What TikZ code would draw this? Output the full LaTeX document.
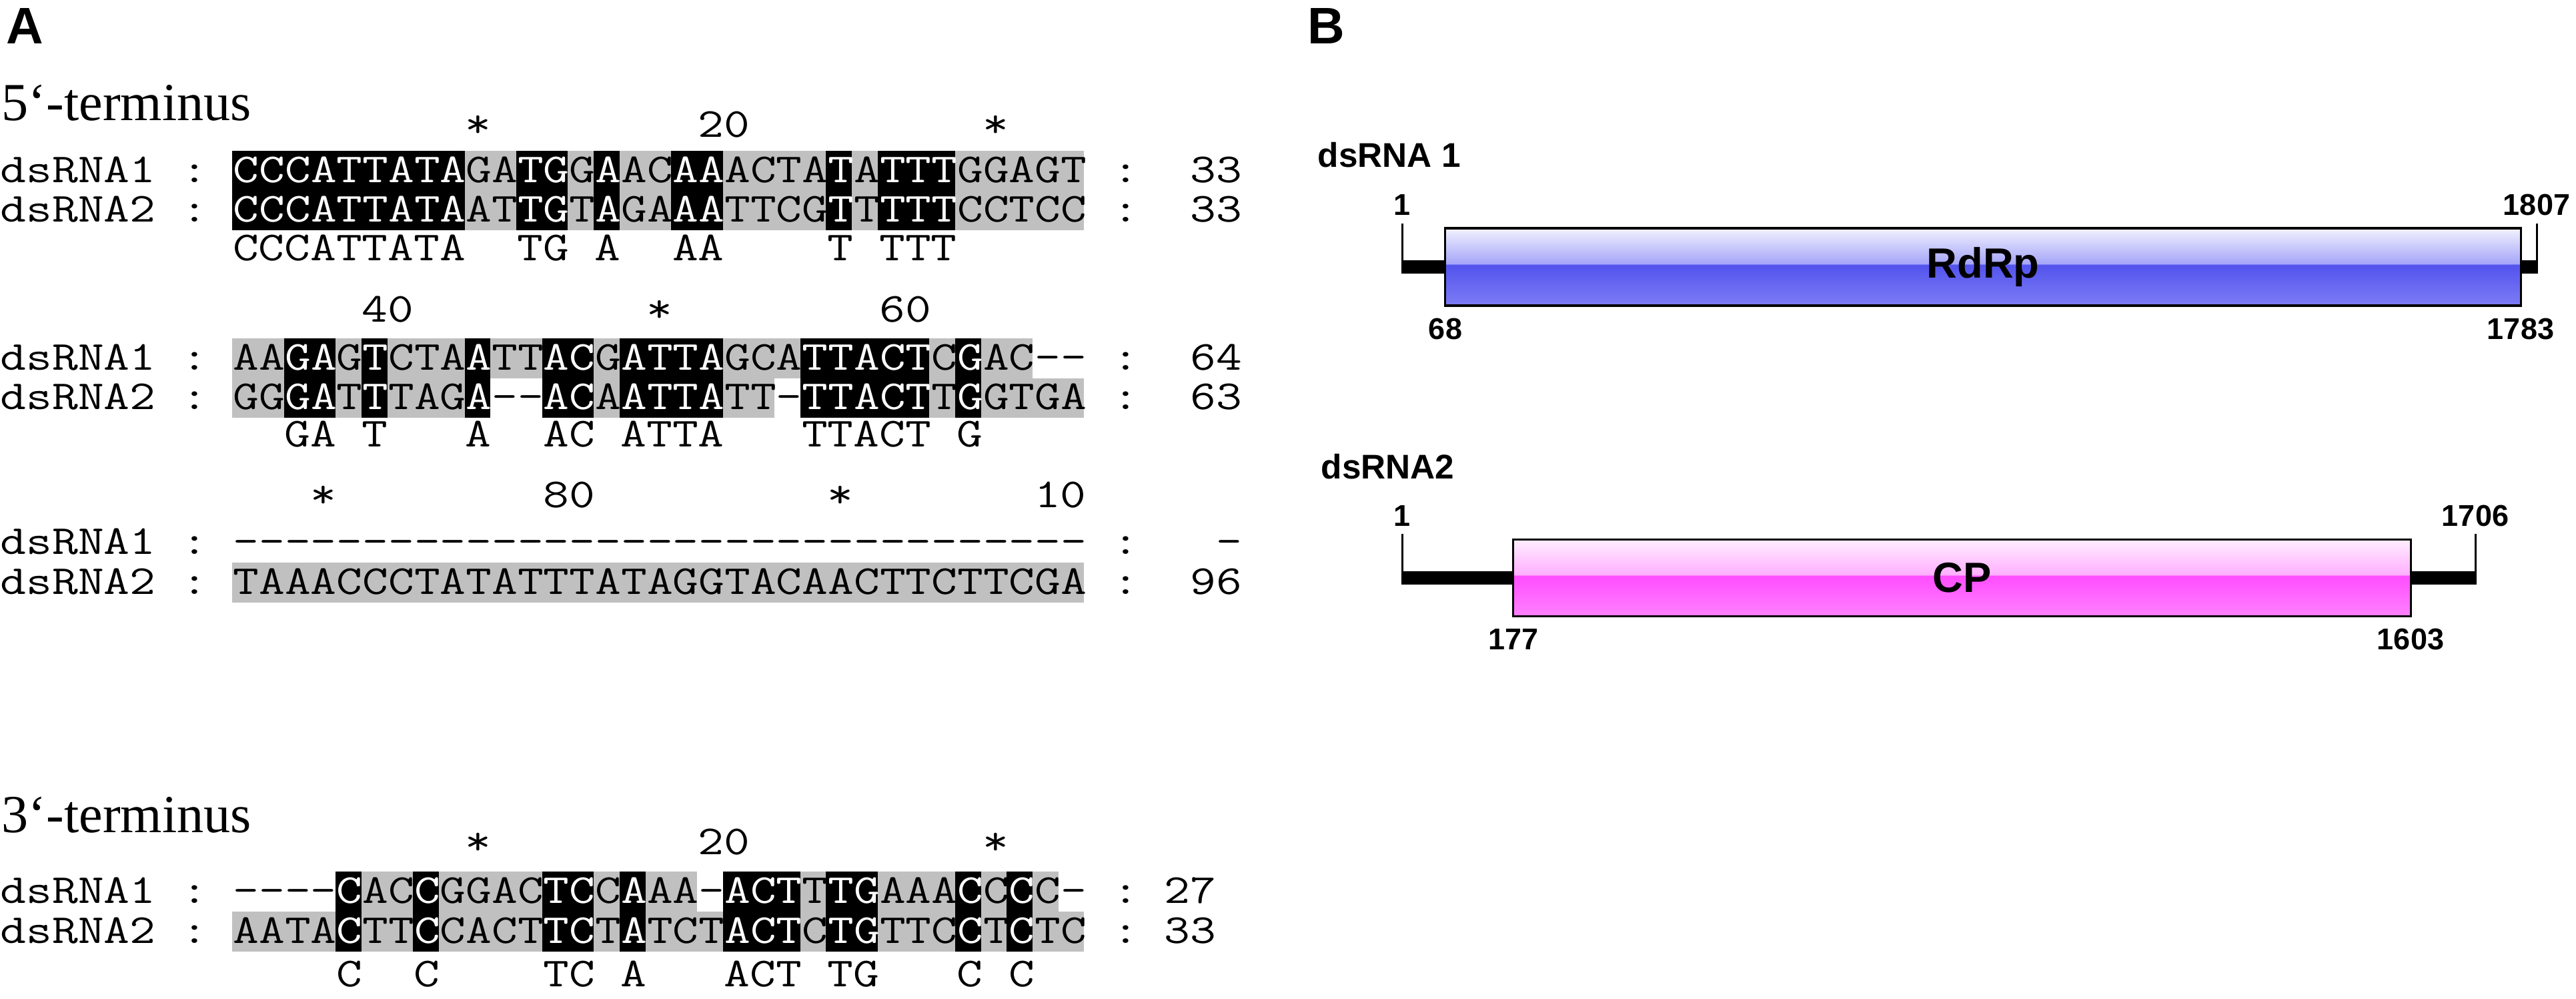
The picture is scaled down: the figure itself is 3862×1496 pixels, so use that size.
\documentclass[tikz,border=0pt]{standalone}
\usepackage{fontspec}
\setmainfont{Liberation Serif}
\newfontfamily\arial{Liberation Sans}
\usetikzlibrary{positioning}
\definecolor{seqgrey}{RGB}{192,192,192}
\definecolor{rdrptop}{RGB}{242,242,255}
\definecolor{rdrplite}{RGB}{165,165,248}
\definecolor{rdrpband}{RGB}{85,85,238}
\definecolor{rdrpbot}{RGB}{125,125,245}
\definecolor{cptop}{RGB}{255,238,255}
\definecolor{cplite}{RGB}{255,175,255}
\definecolor{cpband}{RGB}{255,80,255}
\definecolor{cpbot}{RGB}{255,130,255}
\pgfdeclareverticalshading{rdrpshade}{100bp}{color(0bp)=(rdrpbot); color(25bp)=(rdrpbot); color(50bp)=(rdrpband); color(51.5bp)=(rdrpband); color(52bp)=(rdrplite); color(75bp)=(rdrptop); color(100bp)=(rdrptop)}
\pgfdeclareverticalshading{cpshade}{100bp}{color(0bp)=(cpbot); color(25bp)=(cpbot); color(50bp)=(cpband); color(51.5bp)=(cpband); color(52bp)=(cplite); color(75bp)=(cptop); color(100bp)=(cptop)}
\newcommand\wt[1]{\textcolor{white}{#1}}
\newcommand\colw{38.7}
\newcommand\seqx{348.3}
\newcommand\colfill[5]{\fill[#1] ({\seqx+\colw*#2},#4) rectangle ({\seqx+\colw*(#3+1)},#5);}

\begin{document}
\begin{tikzpicture}[x=0.01cm, y=-0.01cm,
    seq/.style={anchor=base west, inner sep=0pt, text height=0.6em, text depth=0.05em, yscale=0.82, transform shape, font=\ttfamily\fontsize{21.41}{22}\selectfont},
    term/.style={anchor=base west, inner sep=0pt, font=\rmfamily\fontsize{22.8}{25}\selectfont},
    pnl/.style={anchor=base west, inner sep=0pt, font=\arial\bfseries\fontsize{21.9}{24}\selectfont},
    rna/.style={anchor=base west, inner sep=0pt, font=\arial\bfseries\fontsize{14.6}{16}\selectfont},
    num/.style={anchor=base, inner sep=0pt, font=\arial\bfseries\fontsize{12.8}{14}\selectfont},
    gene/.style={draw, line width=0.9pt, inner sep=0pt, font=\arial\bfseries\fontsize{18}{20}\selectfont},
    utr/.style={line width=0.2cm, line cap=butt},
    tick/.style={line width=0.03cm}]
    \useasboundingbox (0,0) rectangle (3862,1496);

    \node[pnl] (labA) at (9,65) {A};
    \node[term] (t5) at (2,180) {5‘-terminus};
    \node[term] (t3) at (2,1247) {3‘-terminus};

    \colfill{seqgrey}{0}{32}{226}{345}
    \foreach \a/\b in {0/8,11/12,14/14,17/18,23/23,25/27} {\colfill{black}{\a}{\b}{226}{345}}
    \node[seq] (r1) at (\seqx,205) {~~~~~~~~~*~~~~~~~~20~~~~~~~~~*};
    \node[seq] (s1a) at (0,273) {dsRNA1~:~\wt{CCCATTATA}GA\wt{TG}G\wt{A}AC\wt{AA}ACTA\wt{T}A\wt{TTT}GGAGT~:~~33};
    \node[seq] (s1b) at (0,332) {dsRNA2~:~\wt{CCCATTATA}AT\wt{TG}T\wt{A}GA\wt{AA}TTCG\wt{T}T\wt{TTT}CCTCC~:~~33};
    \node[seq] (c1) at (\seqx,390) {CCCATTATA~~TG~A~~AA~~~~T~TTT};

    \colfill{seqgrey}{0}{30}{507}{566.5}
    \foreach \a/\b in {0/9,12/20,22/32} {\colfill{seqgrey}{\a}{\b}{566.5}{626}}
    \foreach \a/\b in {2/3,5/5,9/9,12/13,15/18,22/26,28/28} {\colfill{black}{\a}{\b}{507}{626}}
    \node[seq] (r2) at (\seqx,482) {~~~~~40~~~~~~~~~*~~~~~~~~60};
    \node[seq] (s2a) at (0,554) {dsRNA1~:~AA\wt{GA}G\wt{T}CTA\wt{A}TT\wt{AC}G\wt{ATTA}GCA\wt{TTACT}C\wt{G}AC--~:~~64};
    \node[seq] (s2b) at (0,613) {dsRNA2~:~GG\wt{GA}T\wt{T}TAG\wt{A}--\wt{AC}A\wt{ATTA}TT-\wt{TTACT}T\wt{G}GTGA~:~~63};
    \node[seq] (c2) at (\seqx,669) {~~GA~T~~~A~~AC~ATTA~~~TTACT~G};

    \colfill{seqgrey}{0}{32}{843}{903}
    \node[seq] (r3) at (\seqx,760) {~~~*~~~~~~~~80~~~~~~~~~*~~~~~~~10};
    \node[seq] (s3a) at (0,830) {dsRNA1~:~---------------------------------~:~~~-};
    \node[seq] (s3b) at (0,890) {dsRNA2~:~TAAACCCTATATTTATAGGTACAACTTCTTCGA~:~~96};

    \foreach \a/\b in {4/17,19/31} {\colfill{seqgrey}{\a}{\b}{1306}{1366}}
    \colfill{seqgrey}{0}{32}{1366}{1426}
    \foreach \a/\b in {4/4,7/7,12/13,15/15,19/21,23/24,28/28,30/30} {\colfill{black}{\a}{\b}{1306}{1426}}
    \node[seq] (r4) at (\seqx,1280) {~~~~~~~~~*~~~~~~~~20~~~~~~~~~*};
    \node[seq] (s4a) at (0,1353) {dsRNA1~:~----\wt{C}AC\wt{C}GGAC\wt{TC}C\wt{A}AA-\wt{ACT}T\wt{TG}AAA\wt{C}C\wt{C}C-~:~27};
    \node[seq] (s4b) at (0,1413) {dsRNA2~:~AATA\wt{C}TT\wt{C}CACT\wt{TC}T\wt{A}TCT\wt{ACT}C\wt{TG}TTC\wt{C}T\wt{C}TC~:~33};
    \node[seq] (c4) at (\seqx,1478) {~~~~C~~C~~~~TC~A~~~ACT~TG~~~C~C};

    \node[pnl] (labB) at (1960,65) {B};

    \node[rna] (n1) at (1975,250) {dsRNA 1};
    \node[gene, shading=rdrpshade, minimum width=16.12cm, minimum height=1.16cm] (rdrp) at (2973,400) {RdRp};
    \coordinate (u1a) at (2102,400);
    \coordinate (u1b) at (3803,400);
    \draw[utr] (u1a) -- (rdrp.west);
    \draw[utr] (rdrp.east) -- (u1b);
    \draw[tick] (2102,335) -- (2102,410);
    \draw[tick] (3803,335) -- (3803,410);
    \node[num] (p11) at (2102,322) {1};
    \node[num] (p12) at (3803,322) {1807};
    \node[num] (p13) at (2167,508) {68};
    \node[num] (p14) at (3779,508) {1783};

    \node[rna] (n2) at (1980,717) {dsRNA2};
    \node[gene, shading=cpshade, minimum width=13.45cm, minimum height=1.15cm] (cp) at (2941.5,866) {CP};
    \coordinate (u2a) at (2102,866);
    \coordinate (u2b) at (3711,866);
    \draw[utr] (u2a) -- (cp.west);
    \draw[utr] (cp.east) -- (u2b);
    \draw[tick] (2102,800) -- (2102,876);
    \draw[tick] (3711,800) -- (3711,876);
    \node[num] (p21) at (2102,788) {1};
    \node[num] (p22) at (3711,788) {1706};
    \node[num] (p23) at (2269,973) {177};
    \node[num] (p24) at (3614,973) {1603};
\end{tikzpicture}
\end{document}
